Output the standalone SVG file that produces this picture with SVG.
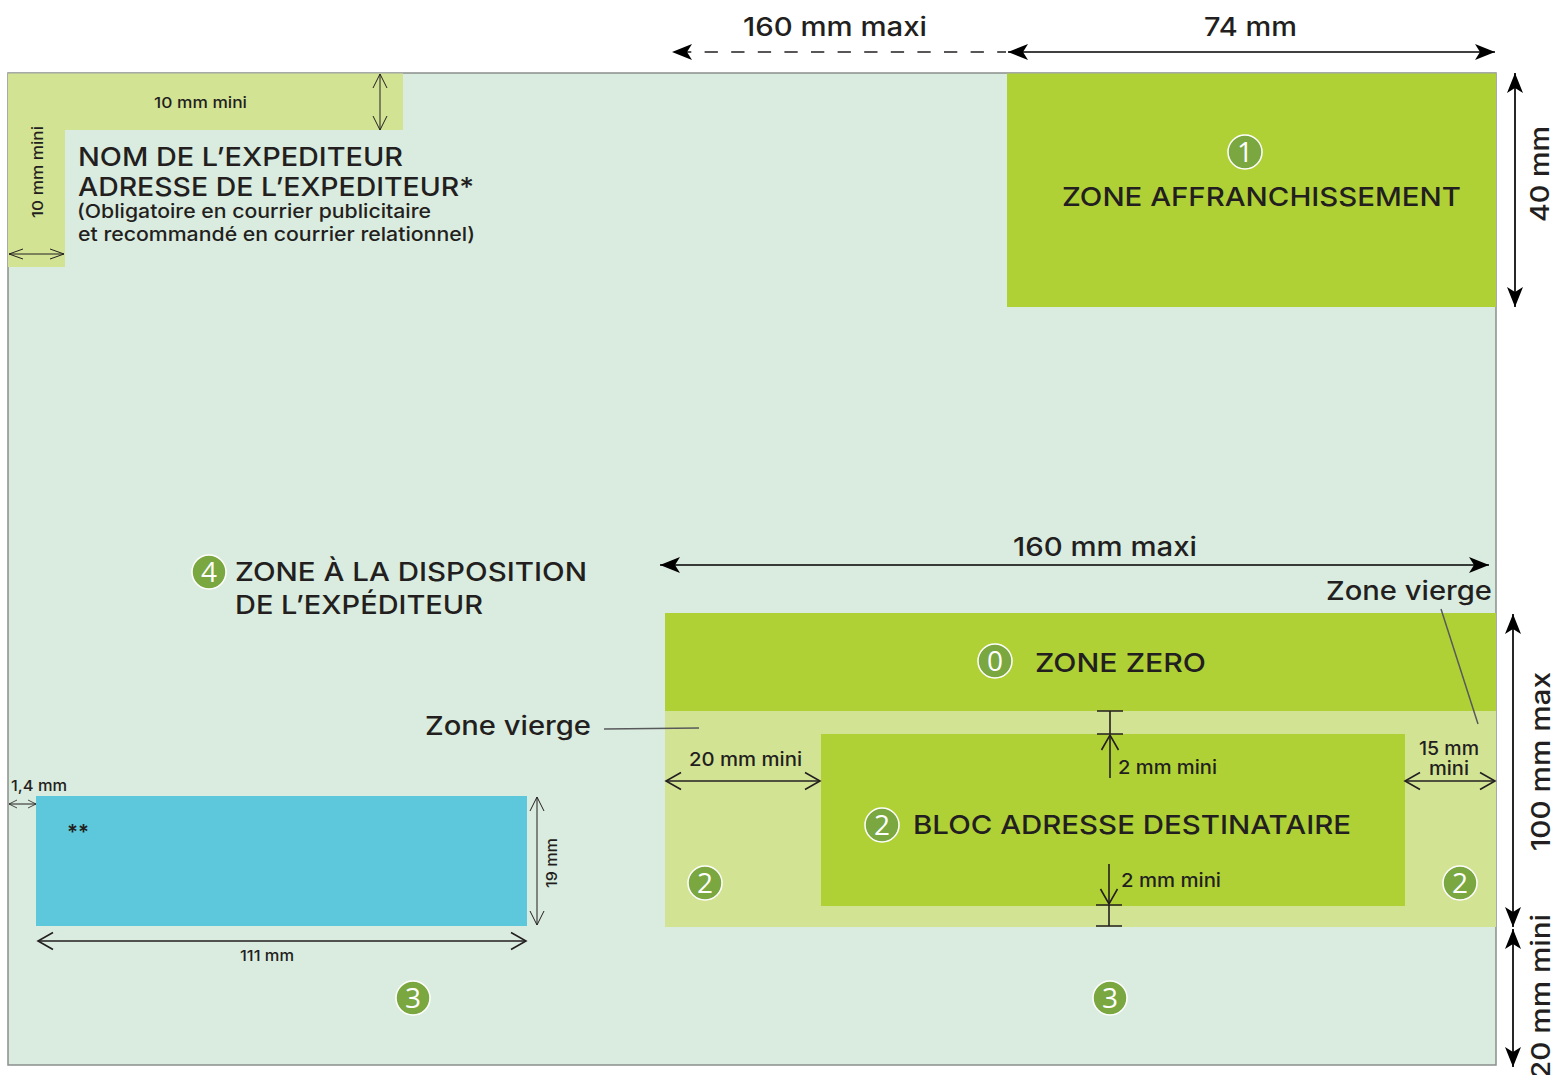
<svg xmlns="http://www.w3.org/2000/svg" width="1551" height="1075" viewBox="0 0 1551 1075">
<style>
text{font-family:Inter,"Liberation Sans",sans-serif;fill:#231f20;font-weight:500}
.h{font-size:26px}
.m{font-size:19px}
.s{font-size:15px}
.t{font-size:26px;font-weight:500}
.b{fill:#7aa740;stroke:#fff;stroke-width:1.5}
.d{font-family:"Open Sans",sans-serif;font-weight:400;font-size:28px;fill:#fff;text-anchor:middle}
.k{fill:none;stroke:#231f20;stroke-width:1.6}
.f{fill:none;stroke:#000;stroke-width:1.7}
.n{fill:none;stroke:#231f20;stroke-width:1}
.l{fill:none;stroke:#58595b;stroke-width:1.5}
</style>
<defs>
<marker id="fa" markerUnits="userSpaceOnUse" markerWidth="24" markerHeight="20" refX="23" refY="10" orient="auto-start-reverse"><path d="M23 10L3 2L8 10L3 18Z" fill="#000"/></marker>
<marker id="va" markerUnits="userSpaceOnUse" markerWidth="20" markerHeight="22" refX="17" refY="11" orient="auto-start-reverse"><path d="M2 2.500L17 11L2 19.500" fill="none" stroke="#231f20" stroke-width="1.6"/></marker>
<marker id="vt" markerUnits="userSpaceOnUse" markerWidth="20" markerHeight="20" refX="16" refY="10" orient="auto-start-reverse"><path d="M2 3L16 10L2 17" fill="none" stroke="#231f20" stroke-width="1"/></marker>
<marker id="vw" markerUnits="userSpaceOnUse" markerWidth="20" markerHeight="20" refX="16" refY="10" orient="auto-start-reverse"><path d="M2 5L16 10L2 15" fill="none" stroke="#231f20" stroke-width="1"/></marker>
<marker id="vs" markerUnits="userSpaceOnUse" markerWidth="12" markerHeight="12" refX="10" refY="6" orient="auto-start-reverse"><path d="M2 2L10 6L2 10" fill="none" stroke="#231f20" stroke-width="0.8"/></marker>
</defs>
<g id="page"><rect x="8" y="73" width="1488" height="992" fill="#daecdf" stroke="#8a8f8c" stroke-width="1.5"/></g>
<g id="margin-expediteur"><path d="M8 73.500H403V130H65V267H8Z" fill="#d3e394"/></g>
<g id="zone-affranchissement"><rect x="1007" y="73.500" width="489" height="233.500" fill="#b0d136"/><circle class="b" cx="1245" cy="152" r="17"/><text class="d" x="1245" y="162">1</text><text class="t" x="1062" y="206" textLength="399" lengthAdjust="spacingAndGlyphs">ZONE AFFRANCHISSEMENT</text></g>
<g id="zone-vierge-bloc"><rect x="665" y="711" width="831" height="216" fill="#d3e394"/></g>
<g id="zone-zero"><rect x="665" y="613" width="831" height="98" fill="#b0d136"/><circle class="b" cx="995" cy="661" r="17"/><text class="d" x="995" y="671">0</text><text class="t" x="1035" y="672" textLength="171" lengthAdjust="spacingAndGlyphs">ZONE ZERO</text></g>
<g id="bloc-adresse"><rect x="821" y="734" width="584" height="172" fill="#b0d136"/><circle class="b" cx="882" cy="825" r="17"/><text class="d" x="882" y="835">2</text><text class="t" x="913" y="834" textLength="438" lengthAdjust="spacingAndGlyphs">BLOC ADRESSE DESTINATAIRE</text></g>
<g id="zone-2-gauche"><circle class="b" cx="705" cy="883" r="17"/><text class="d" x="705" y="893">2</text></g>
<g id="zone-2-droite"><circle class="b" cx="1460" cy="883" r="17"/><text class="d" x="1460" y="893">2</text></g>
<g id="zone-bleue"><rect x="36" y="796" width="491" height="130" fill="#5dc8dc"/><text x="67" y="840" font-size="21" style="font-weight:600" textLength="22" lengthAdjust="spacingAndGlyphs">**</text></g>
<g id="zone-3-gauche"><circle class="b" cx="413" cy="998" r="17"/><text class="d" x="413" y="1008">3</text></g>
<g id="zone-3-droite"><circle class="b" cx="1110" cy="998" r="17"/><text class="d" x="1110" y="1008">3</text></g>
<g id="zone-4"><circle class="b" cx="209" cy="572" r="17"/><text class="d" x="209" y="582">4</text><text class="t" x="235" y="581" textLength="352" lengthAdjust="spacingAndGlyphs">ZONE À LA DISPOSITION</text><text class="t" x="235" y="614" textLength="248" lengthAdjust="spacingAndGlyphs">DE L’EXPÉDITEUR</text></g>
<g id="expediteur"><text class="t" x="78" y="166" textLength="325" lengthAdjust="spacingAndGlyphs">NOM DE L’EXPEDITEUR</text><text class="t" x="78" y="196" textLength="396" lengthAdjust="spacingAndGlyphs">ADRESSE DE L’EXPEDITEUR*</text><text class="m" x="77" y="218" textLength="354" lengthAdjust="spacingAndGlyphs">(Obligatoire en courrier publicitaire</text><text class="m" x="78" y="241" textLength="397" lengthAdjust="spacingAndGlyphs">et recommandé en courrier relationnel)</text></g>
<g id="connectors">
<path class="k" d="M672 52H1006" stroke-dasharray="13.300 13.300" stroke-dashoffset="-6" marker-start="url(#fa)"/>
<path class="f" d="M1008 52H1495" marker-start="url(#fa)" marker-end="url(#fa)"/>
<path class="f" d="M1515 73V307" marker-start="url(#fa)" marker-end="url(#fa)"/>
<path class="f" d="M660 565H1489" marker-start="url(#fa)" marker-end="url(#fa)"/>
<path class="f" d="M1513 614V927" marker-start="url(#fa)" marker-end="url(#fa)"/>
<path class="f" d="M1513 929V1067" marker-start="url(#fa)" marker-end="url(#fa)"/>
<path class="n" d="M380 74V130" marker-start="url(#vt)" marker-end="url(#vt)"/>
<path class="n" d="M9 254H64" marker-start="url(#vw)" marker-end="url(#vw)"/>
<path class="n" d="M9 804H36" marker-start="url(#vs)" marker-end="url(#vs)"/>
<path class="n" d="M537 797V925" marker-start="url(#vt)" marker-end="url(#vt)"/>
<path class="k" d="M38 941H526" marker-start="url(#va)" marker-end="url(#va)"/>
<path class="k" d="M666 781H820" marker-start="url(#va)" marker-end="url(#va)"/>
<path class="k" d="M1405 781H1495" marker-start="url(#va)" marker-end="url(#va)"/>
<path class="k" d="M1097 711H1123M1097 734H1123M1110 711V734"/>
<path class="k" d="M1110 778V735" marker-end="url(#va)"/>
<path class="k" d="M1096 905H1122M1096 926H1122M1109 905V926"/>
<path class="k" d="M1109 864V904" marker-end="url(#va)"/>
<path class="l" d="M1441 609L1478 724"/>
<path class="l" d="M604 729L699 728"/>
</g>
<g id="labels">
<text class="h" x="743" y="36" textLength="184" lengthAdjust="spacingAndGlyphs">160 mm maxi</text>
<text class="h" x="1204" y="36" textLength="93" lengthAdjust="spacingAndGlyphs">74 mm</text>
<text class="h" x="1013" y="556" textLength="184" lengthAdjust="spacingAndGlyphs">160 mm maxi</text>
<text class="h" x="1326" y="600" textLength="166" lengthAdjust="spacingAndGlyphs">Zone vierge</text>
<text class="h" x="425" y="735" textLength="166" lengthAdjust="spacingAndGlyphs">Zone vierge</text>
<text class="s" x="154" y="108" textLength="93" lengthAdjust="spacingAndGlyphs">10 mm mini</text>
<text class="s" transform="translate(43 218) rotate(-90)" textLength="92" lengthAdjust="spacingAndGlyphs">10 mm mini</text>
<text class="s" x="11" y="791" textLength="56" lengthAdjust="spacingAndGlyphs">1,4 mm</text>
<text class="s" x="240" y="961" textLength="54" lengthAdjust="spacingAndGlyphs">111 mm</text>
<text class="s" transform="translate(557 888) rotate(-90)" textLength="50" lengthAdjust="spacingAndGlyphs">19 mm</text>
<text class="m" x="689" y="766" textLength="113" lengthAdjust="spacingAndGlyphs">20 mm mini</text>
<text class="m" x="1118" y="774" textLength="99" lengthAdjust="spacingAndGlyphs">2 mm mini</text>
<text class="m" x="1121" y="887" textLength="100" lengthAdjust="spacingAndGlyphs">2 mm mini</text>
<text class="m" x="1419" y="755" textLength="60" lengthAdjust="spacingAndGlyphs">15 mm</text>
<text class="m" x="1429" y="775" textLength="40" lengthAdjust="spacingAndGlyphs">mini</text>
<text class="h" transform="translate(1549 222) rotate(-90)" textLength="96" lengthAdjust="spacingAndGlyphs">40 mm</text>
<text class="h" transform="translate(1550 851) rotate(-90)" textLength="179" lengthAdjust="spacingAndGlyphs">100 mm max</text>
<text class="h" transform="translate(1550 1079) rotate(-90)" textLength="165" lengthAdjust="spacingAndGlyphs">20 mm mini</text>
</g>
</svg>
